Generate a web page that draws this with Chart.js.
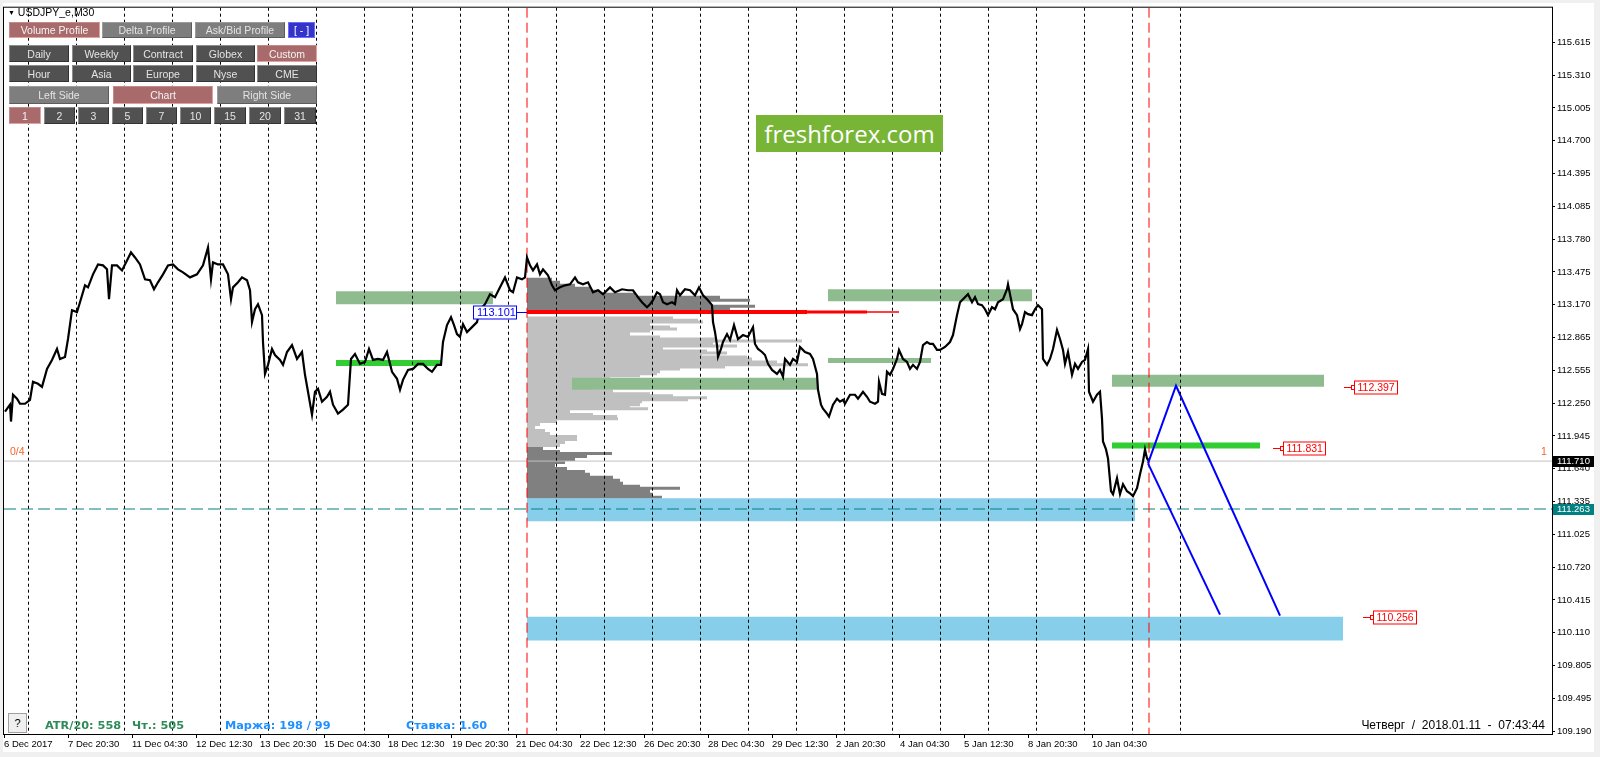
<!DOCTYPE html>
<html><head><meta charset="utf-8">
<script src="https://cdn.jsdelivr.net/npm/chart.js@4.4.1/dist/chart.umd.min.js"></script>
<style>
html,body{margin:0;padding:0;background:#f0f0f0;width:1600px;height:757px;overflow:hidden;font-family:"Liberation Sans",Arial,sans-serif}
#bg{position:absolute;left:3px;top:3px;width:1591px;height:749px;background:#fff}
#c{position:absolute;left:0;top:0}
.b{position:absolute;box-sizing:border-box;font-size:10.5px;display:flex;align-items:center;justify-content:center;color:#e4e4e4;white-space:nowrap}
.r{background:#a86a6a;border:1px solid;border-color:#c48a8a #e3a2a2 #e3a2a2 #c48a8a;color:#f4f4f4}
.g{background:#7e7e7e;border:1px solid;border-color:#9c9c9c #5c5c5c #5c5c5c #9c9c9c}
.d{background:#515151;border:1px solid;border-color:#8c8c8c #333 #333 #8c8c8c}
.u{background:#3434c8;border:1px solid #6c6cff;color:#fff}
.t{position:absolute;white-space:pre}
.s{font-family:'DejaVu Sans';font-weight:bold;font-size:11.3px;top:719px}
</style></head>
<body>
<div id="bg"></div>
<canvas id="c" width="1600" height="757"></canvas>
<div class="t" style="left:8px;top:6px;font-size:10.5px;color:#000"><span style="font-size:7px;position:relative;top:-1px">&#9660;</span> USDJPY_e,M30</div>
<div class="b r" style="left:9px;top:22px;width:91px;height:16px">Volume Profile</div>
<div class="b g" style="left:102px;top:22px;width:90px;height:16px">Delta Profile</div>
<div class="b g" style="left:195px;top:22px;width:90px;height:16px">Ask/Bid Profile</div>
<div class="b u" style="left:288px;top:22px;width:27px;height:16px">[ - ]</div>
<div class="b d" style="left:9px;top:45px;width:60px;height:17px">Daily</div>
<div class="b d" style="left:72px;top:45px;width:59px;height:17px">Weekly</div>
<div class="b d" style="left:133px;top:45px;width:60px;height:17px">Contract</div>
<div class="b d" style="left:196px;top:45px;width:59px;height:17px">Globex</div>
<div class="b r" style="left:257px;top:45px;width:60px;height:17px">Custom</div>
<div class="b d" style="left:9px;top:65px;width:60px;height:17px">Hour</div>
<div class="b d" style="left:72px;top:65px;width:59px;height:17px">Asia</div>
<div class="b d" style="left:133px;top:65px;width:60px;height:17px">Europe</div>
<div class="b d" style="left:196px;top:65px;width:59px;height:17px">Nyse</div>
<div class="b d" style="left:257px;top:65px;width:60px;height:17px">CME</div>
<div class="b g" style="left:9px;top:86px;width:100px;height:18px">Left Side</div>
<div class="b r" style="left:113px;top:86px;width:100px;height:18px">Chart</div>
<div class="b g" style="left:217px;top:86px;width:100px;height:18px">Right Side</div>
<div class="b r" style="left:9px;top:107px;width:32px;height:17px">1</div>
<div class="b d" style="left:44px;top:107px;width:31px;height:17px">2</div>
<div class="b d" style="left:78px;top:107px;width:31px;height:17px">3</div>
<div class="b d" style="left:112px;top:107px;width:31px;height:17px">5</div>
<div class="b d" style="left:146px;top:107px;width:31px;height:17px">7</div>
<div class="b d" style="left:180px;top:107px;width:31px;height:17px">10</div>
<div class="b d" style="left:214px;top:107px;width:32px;height:17px">15</div>
<div class="b d" style="left:249px;top:107px;width:32px;height:17px">20</div>
<div class="b d" style="left:284px;top:107px;width:32px;height:17px">31</div>
<div class="t" style="left:756px;top:115px;width:187px;height:37px;background:#78b536;color:#fff;font-family:'Open Sans',sans-serif;font-size:24px;display:flex;align-items:center;justify-content:center">freshforex.com</div>
<div class="t" style="left:8px;top:713px;width:19px;height:20px;box-sizing:border-box;background:#f0f0f0;border:1px solid #a0a0a0;font-size:11px;display:flex;align-items:center;justify-content:center">?</div>
<div class="t s" style="left:45px;color:#2e8b57">ATR/20: 558</div>
<div class="t s" style="left:132px;color:#2e8b57">Чт.: 505</div>
<div class="t s" style="left:225px;color:#1e90ff">Маржа: 198 / 99</div>
<div class="t s" style="left:406px;color:#1e90ff">Ставка: 1.60</div>
<div class="t" style="right:55px;top:718px;font-size:12px;color:#000">Четверг  /  2018.01.11  -  07:43:44</div>
<script>
// ---- axis ticks ----
const yTicks=[115.615,115.310,115.005,114.700,114.395,114.085,113.780,113.475,113.170,112.865,112.555,112.250,111.945,111.640,111.335,111.025,110.720,110.415,110.110,109.805,109.495,109.190];
const dateLabels=["6 Dec 2017","7 Dec 20:30","11 Dec 04:30","12 Dec 12:30","13 Dec 20:30","15 Dec 04:30","18 Dec 12:30","19 Dec 20:30","21 Dec 04:30","22 Dec 12:30","26 Dec 20:30","28 Dec 04:30","29 Dec 12:30","2 Jan 20:30","4 Jan 04:30","5 Jan 12:30","8 Jan 20:30","10 Jan 04:30"];
const labelBars=[0,64,128,192,256,320,384,448,512,576,640,704,768,832,896,960,1024,1088];
const daySeparators=[24,72,120,168,216,264,312,360,408,456,504,552,600,648,696,744,792,840,888,936,984,1032,1080,1128,1176];
const yMin=109.164, yMax=115.940, barMin=0, barMax=1548;
// ---- price series (M30 bar index, price) ----
const priceBars=[1,6,7,9,13,16,21,26,29,34,38,43,48,53,56,61,64,68,73,76,81,84,89,94,99,103,105,108,113,118,123,127,131,136,141,146,150,154,159,164,169,174,179,186,193,199,204,207,209,214,219,224,227,229,234,238,243,246,248,251,254,258,259,261,264,268,271,276,279,283,
288,293,298,301,304,308,311,314,318,323,326,329,334,339,344,347,351,356,361,365,369,374,379,383,388,393,396,399,404,409,414,419,424,428,433,437,439,443,447,450,453,456,459,463,468,473,476,481,486,491,496,501,506,509,513,518,521,523,526,529,533,536,539,544,548,551,
556,561,566,571,574,579,584,589,594,599,606,611,618,624,629,634,638,643,646,649,653,656,659,663,668,671,673,676,681,686,691,695,699,704,708,709,711,713,714,717,719,723,726,730,734,739,744,749,751,754,758,761,764,768,773,776,779,781,786,789,793,796,801,806,809,813,814,817,819,823,825,829,833,836,839,
841,846,851,854,859,863,866,871,874,875,878,881,883,886,889,893,895,899,903,906,909,913,916,919,923,926,929,933,936,941,946,949,953,956,959,964,968,971,974,978,981,984,988,991,994,999,1003,1004,1007,1009,1013,1016,1018,1021,1024,1028,1031,1034,1038,1039,1043,1046,1049,1053,1056,1059,1061,1064,1068,1071,1074,1078,1081,1084,1085,1089,1093,1096,1098,1099,1102,1104,1107,1109,1113,1116,1119,1123,1126,1129,1133,1136,1139,1141,1143,1145];
const closePrices=[112.171,112.236,112.079,112.329,112.292,112.245,112.245,112.282,112.450,112.431,112.403,112.570,112.654,112.756,112.663,112.682,112.849,113.118,113.100,113.192,113.350,113.331,113.452,113.545,113.536,113.499,113.220,113.536,113.536,113.489,113.582,113.657,113.610,113.545,113.406,113.397,113.313,113.378,113.452,113.536,113.545,113.499,113.471,113.424,113.452,113.536,113.703,113.406,113.564,113.545,113.545,113.452,113.220,113.331,113.378,113.424,113.397,113.304,113.007,113.127,113.174,113.072,112.821,112.524,112.608,112.756,112.700,112.654,112.608,112.728,
112.793,112.663,112.728,112.515,112.357,112.143,112.357,112.385,112.264,112.310,112.357,112.236,112.153,112.190,112.236,112.663,112.710,112.617,112.635,112.756,112.654,112.663,112.654,112.728,112.543,112.478,112.375,112.468,112.561,112.570,112.617,112.617,112.570,112.543,112.608,112.608,112.821,112.979,113.053,112.979,112.895,112.868,112.988,112.914,112.960,113.007,113.127,113.174,113.267,113.239,113.331,113.424,113.304,113.285,113.424,113.406,113.424,113.610,113.536,113.489,113.545,113.452,113.499,113.443,113.350,113.304,
113.331,113.350,113.359,113.424,113.378,113.359,113.378,113.285,113.304,113.267,113.331,113.285,113.313,113.304,113.304,113.239,113.192,113.146,113.174,113.211,113.285,113.267,113.192,113.174,113.192,113.174,113.304,113.257,113.313,113.304,113.257,113.331,113.257,113.211,113.165,113.007,112.914,112.793,112.682,112.756,112.821,112.895,112.840,112.979,112.849,112.886,112.868,112.960,112.803,112.756,112.728,112.700,112.617,112.561,112.524,112.561,112.496,112.663,112.608,112.663,112.635,112.775,112.728,112.710,112.663,112.524,112.375,112.236,112.199,112.153,112.125,112.236,112.292,112.264,112.282,
112.245,112.329,112.329,112.292,112.357,112.310,112.264,112.245,112.264,112.450,112.338,112.329,112.543,112.515,112.570,112.663,112.747,112.663,112.635,112.570,112.608,112.570,112.635,112.793,112.821,112.803,112.803,112.747,112.747,112.775,112.821,112.886,113.072,113.192,113.220,113.267,113.192,113.239,113.174,113.165,113.127,113.072,113.146,113.127,113.192,113.220,113.313,113.359,113.220,113.127,113.072,112.942,112.988,113.100,113.081,113.072,113.127,113.165,113.127,112.663,112.608,112.663,112.756,112.933,112.849,112.747,112.617,112.728,112.515,112.617,112.570,112.635,112.654,112.756,112.357,112.264,112.329,112.357,112.106,111.893,111.819,111.735,111.429,111.401,111.550,111.401,111.494,111.429,111.410,111.382,111.457,111.587,111.707,111.819,111.735,111.707];
// ---- volume profile (starts 21 Dec 04:30) ----
const profileStartBar=523;
const profilePrices=[113.406,113.378,113.350,113.322,113.295,113.267,113.239,113.211,113.183,113.155,113.127,
113.044,113.025,113.007,112.979,112.960,112.942,112.923,112.895,112.868,112.849,112.830,112.803,112.784,112.756,112.738,112.719,112.700,112.682,112.663,112.635,112.608,112.589,112.570,112.543,112.524,112.506,112.478,112.450,112.422,112.403,112.385,112.366,112.338,112.320,112.301,112.283,112.264,112.236,112.218,112.199,112.171,112.144,112.125,112.106,112.079,112.051,112.023,111.995,111.967,111.939,111.911,111.884,111.856,
111.828,111.800,111.782,111.754,111.726,111.698,111.670,111.642,111.614,111.587,111.559,111.531,111.503,111.475,111.457,111.429,111.401,111.373];
const profileVolumes=[25,33,48,63,73,108,193,223,183,228,203,
146,171,176,123,143,150,123,103,133,190,275,186,210,136,180,200,175,220,225,250,281,198,153,133,130,113,83,63,48,53,66,86,123,146,180,161,115,113,103,121,43,66,90,91,30,13,8,18,23,50,50,38,33,
16,33,85,60,48,38,28,40,58,63,86,93,96,113,153,123,126,135];
const pocPrice=113.101, pocBars=[803,863,895];
const valueAreaLow=111.842;
// ---- zones ----
const zoneStartBars=[332,332,568,824,824,1108,1108,523,523];
const zoneEndBars=[489,438,813,1028,927,1320,1256,1131,1339];
const zoneHighs=[113.295,112.654,112.487,113.313,112.673,112.515,111.884,111.364,110.259];
const zoneLows=[113.174,112.598,112.376,113.202,112.626,112.403,111.828,111.150,110.036];
const zoneTypes=['zone','level','zone','zone','zone','zone','level','target','target'];
// ---- projections / lines ----
const projBarsA=[1144,1172,1276], projPricesA=[111.689,112.413,110.268];
const projBarsB=[1144,1216], projPricesB=[111.689,110.278];
const bidPrice=111.710, stopPrice=111.263;
const markerBars=[523,1145];
const tagBars=[1340,1269,1359], tagPrices=[112.397,111.831,110.256];

const zoneColors={zone:'#8fbc8f',level:'#32cd32',target:'#87ceeb'};
const FONT='"Liberation Sans", Arial, sans-serif';

const datasets=[];
const base={pointRadius:0,tension:0,fill:false,spanGaps:false};
datasets.push({...base,order:0,data:projBarsA.map((b,i)=>({x:b,y:projPricesA[i]})),borderColor:'#0000ff',borderWidth:2});
datasets.push({...base,order:0,data:projBarsB.map((b,i)=>({x:b,y:projPricesB[i]})),borderColor:'#0000ff',borderWidth:2});
datasets.push({...base,order:1,data:priceBars.map((b,i)=>({x:b,y:closePrices[i]})),borderColor:'#000',borderWidth:2.2,borderJoinStyle:'miter'});
const pocW=[4,3,1.5];
pocBars.forEach((e,i)=>{datasets.push({...base,order:2,data:[{x:profileStartBar,y:pocPrice},{x:e,y:pocPrice}],borderColor:'#ff0000',borderWidth:pocW[i]});});
markerBars.forEach(b=>datasets.push({...base,order:3,data:[{x:b,y:yMax},{x:b,y:yMin}],borderColor:'#ff0000',borderWidth:1,borderDash:[10,5]}));
datasets.push({...base,order:4,data:[{x:barMin,y:stopPrice},{x:barMax,y:stopPrice}],borderColor:'#008080',borderWidth:1,borderDash:[12,5]});
datasets.push({...base,order:4,data:[{x:barMin,y:bidPrice},{x:barMax,y:bidPrice}],borderColor:'#c0c0c0',borderWidth:1});
zoneStartBars.forEach((s,i)=>{datasets.push({...base,order:5,data:[{x:s,y:zoneHighs[i]},{x:zoneEndBars[i],y:zoneHighs[i]}],borderWidth:0,borderColor:'rgba(0,0,0,0)',fill:{value:zoneLows[i]},backgroundColor:zoneColors[zoneTypes[i]]});});
function rows(test){const d=[];profilePrices.forEach((p,i)=>{if(test(p)){const e=profileStartBar+profileVolumes[i];d.push({x:profileStartBar,y:p},{x:e,y:p},{x:e,y:null});}});return d;}
datasets.push({...base,order:6,data:rows(p=>p>pocPrice||p<valueAreaLow),borderColor:'#808080',borderWidth:3});
datasets.push({...base,order:6,data:rows(p=>p<pocPrice&&p>=valueAreaLow),borderColor:'#c0c0c0',borderWidth:3});

const overlay={id:'overlay',afterDraw(chart){
  const ctx=chart.ctx, xs=chart.scales.x, ys=chart.scales.y, a=chart.chartArea;
  ctx.save();
  ctx.strokeStyle='#000';ctx.lineWidth=1;
  ctx.strokeRect(a.left-0.5,a.top-0.5,a.right-a.left+1,a.bottom-a.top+1);
  ctx.textBaseline='middle';
  ctx.font='10.5px '+FONT;
  tagBars.forEach((b,i)=>{
    const x0=Math.round(xs.getPixelForValue(b)), y=Math.round(ys.getPixelForValue(tagPrices[i]))+0.5;
    ctx.strokeStyle='#ff0000';ctx.fillStyle='#fff';
    ctx.beginPath();ctx.moveTo(x0,y);ctx.lineTo(x0+8,y);ctx.stroke();
    ctx.strokeRect(x0+7.5,y-2,3,4);
    const txt=tagPrices[i].toFixed(3), w=Math.round(ctx.measureText(txt).width)+6;
    ctx.fillRect(x0+10.5,y-6.5,w,13);ctx.strokeRect(x0+10.5,y-6.5,w,13);
    ctx.fillStyle='#ff0000';ctx.fillText(txt,x0+13.5,y+0.5);
  });
  {const xe=Math.round(xs.getPixelForValue(profileStartBar)), y=Math.round(ys.getPixelForValue(pocPrice))+0.5;
   ctx.font='11px '+FONT;const txt=pocPrice.toFixed(3), w=43;
   ctx.strokeStyle='#0000ff';ctx.fillStyle='#fff';
   ctx.beginPath();ctx.moveTo(xe-11,y);ctx.lineTo(xe,y);ctx.stroke();
   ctx.fillRect(xe-11-w+0.5,y-6.5,w,13);ctx.strokeRect(xe-11-w+0.5,y-6.5,w,13);
   ctx.fillStyle='#0000ff';ctx.fillText(txt,xe-11-w+4,y+0.5);}
  ctx.font='9.5px '+FONT;
  [[bidPrice,'#000'],[stopPrice,'#008080']].forEach(([p,c])=>{
    const y=Math.round(ys.getPixelForValue(p));
    ctx.fillStyle=c;ctx.fillRect(a.right+1,y-5,41,11);
    ctx.fillStyle='#fff';ctx.fillText(p.toFixed(3),a.right+5,y+0.5);
  });
  ctx.font='10.5px '+FONT;ctx.fillStyle='#f06428';ctx.textBaseline='alphabetic';
  const yb=ys.getPixelForValue(bidPrice)-6;
  ctx.fillText('0/4',a.left+6,yb);
  ctx.fillText('1',a.right-11,yb);
  ctx.restore();
}};

new Chart(document.getElementById('c'),{
  type:'line',
  data:{datasets},
  options:{
    responsive:false,animation:false,events:[],
    layout:{padding:{left:4,top:4,right:0,bottom:0}},
    plugins:{legend:{display:false},tooltip:{enabled:false}},
    scales:{
      x:{type:'linear',position:'bottom',min:barMin,max:barMax,
        afterBuildTicks:s=>{s.ticks=labelBars.map(v=>({value:v}));},
        afterFit:s=>{s.height=23;},
        ticks:{autoSkip:false,maxRotation:0,minRotation:0,align:'start',padding:1,color:'#000',font:{family:FONT,size:9.5},callback:(v,i)=>dateLabels[i]},
        grid:{drawOnChartArea:false,tickLength:4,color:'#000'},
        border:{color:'#000'}},
      x2:{type:'linear',position:'bottom',min:barMin,max:barMax,
        afterBuildTicks:s=>{s.ticks=daySeparators.map(v=>({value:v}));},
        afterFit:s=>{s.height=0;},
        ticks:{display:false},
        grid:{drawTicks:false,color:'#000',z:1},
        border:{display:false,dash:[3,3]}},
      y:{type:'linear',position:'right',min:yMin,max:yMax,
        afterBuildTicks:s=>{s.ticks=yTicks.map(v=>({value:v}));},
        afterFit:s=>{s.width=48;},
        ticks:{padding:2,color:'#000',font:{family:FONT,size:9.5},callback:v=>v.toFixed(3)},
        grid:{drawOnChartArea:false,tickLength:3,color:'#000'},
        border:{color:'#000'}}
    }
  },
  plugins:[overlay]
});
</script>
</body></html>
